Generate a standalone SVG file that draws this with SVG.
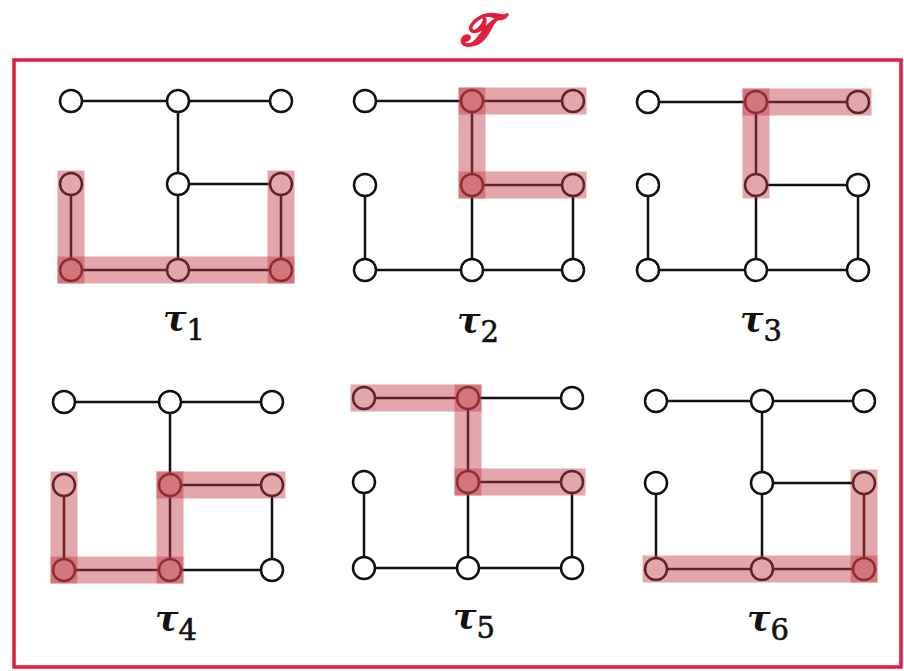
<svg xmlns="http://www.w3.org/2000/svg" width="904" height="671" viewBox="0 0 904 671">
  <style>
    .edge { stroke: #111; stroke-width: 2.5; fill: none; }
    .node { fill: #fff; stroke: #111; stroke-width: 2.5; }
    .band { stroke: #c23a42; stroke-opacity: 0.45; stroke-width: 27; stroke-linecap: square; fill: none; }
    .frame { fill: none; stroke: #e31d3c; stroke-width: 3.5; }
    .title { fill: #e31d3c; stroke: #e31d3c; stroke-width: 1.4; font-family: "DejaVu Serif", "Noto Sans", serif; font-size: 44px; font-style: italic; font-weight: bold; text-anchor: middle; }
    .lbl { fill: #111; font-family: "DejaVu Serif", serif; font-size: 35px; font-style: italic; font-weight: bold; text-anchor: middle; }
    .sub { font-style: normal; font-weight: normal; font-size: 29px; stroke: #111; stroke-width: 0.6; }
  </style>

  <rect width="904" height="671" fill="#fff"/>

  <!-- outer set frame and its title -->
  <g id="frame">
    <rect class="frame" x="14" y="60" width="887" height="607"/>
    <text class="title" x="478" y="45">𝒯</text>
  </g>

  <!-- connectors of all six graphs -->
  <g id="connectors">
    <!-- tau1: x 71,178,281  y 101,184,270 -->
    <g id="edges-t1">
      <line class="edge" x1="71" y1="101" x2="178" y2="101"/>
      <line class="edge" x1="178" y1="101" x2="281" y2="101"/>
      <line class="edge" x1="178" y1="101" x2="178" y2="184"/>
      <line class="edge" x1="178" y1="184" x2="281" y2="184"/>
      <line class="edge" x1="71" y1="184" x2="71" y2="270"/>
      <line class="edge" x1="71" y1="270" x2="178" y2="270"/>
      <line class="edge" x1="178" y1="270" x2="281" y2="270"/>
      <line class="edge" x1="178" y1="184" x2="178" y2="270"/>
      <line class="edge" x1="281" y1="184" x2="281" y2="270"/>
    </g>
    <!-- tau2: x 365,472,573  y 101,185,270 -->
    <g id="edges-t2">
      <line class="edge" x1="365" y1="101" x2="472" y2="101"/>
      <line class="edge" x1="472" y1="101" x2="573" y2="101"/>
      <line class="edge" x1="472" y1="101" x2="472" y2="185"/>
      <line class="edge" x1="472" y1="185" x2="573" y2="185"/>
      <line class="edge" x1="365" y1="185" x2="365" y2="270"/>
      <line class="edge" x1="365" y1="270" x2="472" y2="270"/>
      <line class="edge" x1="472" y1="270" x2="573" y2="270"/>
      <line class="edge" x1="472" y1="185" x2="472" y2="270"/>
      <line class="edge" x1="573" y1="185" x2="573" y2="270"/>
    </g>
    <!-- tau3: x 648,756,858  y 102,185,270 -->
    <g id="edges-t3">
      <line class="edge" x1="648" y1="102" x2="756" y2="102"/>
      <line class="edge" x1="756" y1="102" x2="858" y2="102"/>
      <line class="edge" x1="756" y1="102" x2="756" y2="185"/>
      <line class="edge" x1="756" y1="185" x2="858" y2="185"/>
      <line class="edge" x1="648" y1="185" x2="648" y2="270"/>
      <line class="edge" x1="648" y1="270" x2="756" y2="270"/>
      <line class="edge" x1="756" y1="270" x2="858" y2="270"/>
      <line class="edge" x1="756" y1="185" x2="756" y2="270"/>
      <line class="edge" x1="858" y1="185" x2="858" y2="270"/>
    </g>
    <!-- tau4: x 64,170,272  y 402,485,570 -->
    <g id="edges-t4">
      <line class="edge" x1="64" y1="402" x2="170" y2="402"/>
      <line class="edge" x1="170" y1="402" x2="272" y2="402"/>
      <line class="edge" x1="170" y1="402" x2="170" y2="485"/>
      <line class="edge" x1="170" y1="485" x2="272" y2="485"/>
      <line class="edge" x1="64" y1="485" x2="64" y2="570"/>
      <line class="edge" x1="64" y1="570" x2="170" y2="570"/>
      <line class="edge" x1="170" y1="570" x2="272" y2="570"/>
      <line class="edge" x1="170" y1="485" x2="170" y2="570"/>
      <line class="edge" x1="272" y1="485" x2="272" y2="570"/>
    </g>
    <!-- tau5: x 364,468,572  y 398,482,568 -->
    <g id="edges-t5">
      <line class="edge" x1="364" y1="398" x2="468" y2="398"/>
      <line class="edge" x1="468" y1="398" x2="572" y2="398"/>
      <line class="edge" x1="468" y1="398" x2="468" y2="482"/>
      <line class="edge" x1="468" y1="482" x2="572" y2="482"/>
      <line class="edge" x1="364" y1="482" x2="364" y2="568"/>
      <line class="edge" x1="364" y1="568" x2="468" y2="568"/>
      <line class="edge" x1="468" y1="568" x2="572" y2="568"/>
      <line class="edge" x1="468" y1="482" x2="468" y2="568"/>
      <line class="edge" x1="572" y1="482" x2="572" y2="568"/>
    </g>
    <!-- tau6: x 656,762,864  y 401,483,569 -->
    <g id="edges-t6">
      <line class="edge" x1="656" y1="401" x2="762" y2="401"/>
      <line class="edge" x1="762" y1="401" x2="864" y2="401"/>
      <line class="edge" x1="762" y1="401" x2="762" y2="483"/>
      <line class="edge" x1="762" y1="483" x2="864" y2="483"/>
      <line class="edge" x1="656" y1="483" x2="656" y2="569"/>
      <line class="edge" x1="656" y1="569" x2="762" y2="569"/>
      <line class="edge" x1="762" y1="569" x2="864" y2="569"/>
      <line class="edge" x1="762" y1="483" x2="762" y2="569"/>
      <line class="edge" x1="864" y1="483" x2="864" y2="569"/>
    </g>
  </g>

  <!-- vertices -->
  <g id="t1-nodes">
    <g id="t1-a"><circle class="node" cx="71" cy="101" r="11"/></g>
    <g id="t1-b"><circle class="node" cx="178" cy="101" r="11"/></g>
    <g id="t1-c"><circle class="node" cx="281" cy="101" r="11"/></g>
    <g id="t1-d"><circle class="node" cx="71" cy="184" r="11"/></g>
    <g id="t1-e"><circle class="node" cx="178" cy="184" r="11"/></g>
    <g id="t1-f"><circle class="node" cx="281" cy="184" r="11"/></g>
    <g id="t1-g"><circle class="node" cx="71" cy="270" r="11"/></g>
    <g id="t1-h"><circle class="node" cx="178" cy="270" r="11"/></g>
    <g id="t1-i"><circle class="node" cx="281" cy="270" r="11"/></g>
  </g>
  <g id="t2-nodes">
    <g id="t2-a"><circle class="node" cx="365" cy="101" r="11"/></g>
    <g id="t2-b"><circle class="node" cx="472" cy="101" r="11"/></g>
    <g id="t2-c"><circle class="node" cx="573" cy="101" r="11"/></g>
    <g id="t2-d"><circle class="node" cx="365" cy="185" r="11"/></g>
    <g id="t2-e"><circle class="node" cx="472" cy="185" r="11"/></g>
    <g id="t2-f"><circle class="node" cx="573" cy="185" r="11"/></g>
    <g id="t2-g"><circle class="node" cx="365" cy="270" r="11"/></g>
    <g id="t2-h"><circle class="node" cx="472" cy="270" r="11"/></g>
    <g id="t2-i"><circle class="node" cx="573" cy="270" r="11"/></g>
  </g>
  <g id="t3-nodes">
    <g id="t3-a"><circle class="node" cx="648" cy="102" r="11"/></g>
    <g id="t3-b"><circle class="node" cx="756" cy="102" r="11"/></g>
    <g id="t3-c"><circle class="node" cx="858" cy="102" r="11"/></g>
    <g id="t3-d"><circle class="node" cx="648" cy="185" r="11"/></g>
    <g id="t3-e"><circle class="node" cx="756" cy="185" r="11"/></g>
    <g id="t3-f"><circle class="node" cx="858" cy="185" r="11"/></g>
    <g id="t3-g"><circle class="node" cx="648" cy="270" r="11"/></g>
    <g id="t3-h"><circle class="node" cx="756" cy="270" r="11"/></g>
    <g id="t3-i"><circle class="node" cx="858" cy="270" r="11"/></g>
  </g>
  <g id="t4-nodes">
    <g id="t4-a"><circle class="node" cx="64" cy="402" r="11"/></g>
    <g id="t4-b"><circle class="node" cx="170" cy="402" r="11"/></g>
    <g id="t4-c"><circle class="node" cx="272" cy="402" r="11"/></g>
    <g id="t4-d"><circle class="node" cx="64" cy="485" r="11"/></g>
    <g id="t4-e"><circle class="node" cx="170" cy="485" r="11"/></g>
    <g id="t4-f"><circle class="node" cx="272" cy="485" r="11"/></g>
    <g id="t4-g"><circle class="node" cx="64" cy="570" r="11"/></g>
    <g id="t4-h"><circle class="node" cx="170" cy="570" r="11"/></g>
    <g id="t4-i"><circle class="node" cx="272" cy="570" r="11"/></g>
  </g>
  <g id="t5-nodes">
    <g id="t5-a"><circle class="node" cx="364" cy="398" r="11"/></g>
    <g id="t5-b"><circle class="node" cx="468" cy="398" r="11"/></g>
    <g id="t5-c"><circle class="node" cx="572" cy="398" r="11"/></g>
    <g id="t5-d"><circle class="node" cx="364" cy="482" r="11"/></g>
    <g id="t5-e"><circle class="node" cx="468" cy="482" r="11"/></g>
    <g id="t5-f"><circle class="node" cx="572" cy="482" r="11"/></g>
    <g id="t5-g"><circle class="node" cx="364" cy="568" r="11"/></g>
    <g id="t5-h"><circle class="node" cx="468" cy="568" r="11"/></g>
    <g id="t5-i"><circle class="node" cx="572" cy="568" r="11"/></g>
  </g>
  <g id="t6-nodes">
    <g id="t6-a"><circle class="node" cx="656" cy="401" r="11"/></g>
    <g id="t6-b"><circle class="node" cx="762" cy="401" r="11"/></g>
    <g id="t6-c"><circle class="node" cx="864" cy="401" r="11"/></g>
    <g id="t6-d"><circle class="node" cx="656" cy="483" r="11"/></g>
    <g id="t6-e"><circle class="node" cx="762" cy="483" r="11"/></g>
    <g id="t6-f"><circle class="node" cx="864" cy="483" r="11"/></g>
    <g id="t6-g"><circle class="node" cx="656" cy="569" r="11"/></g>
    <g id="t6-h"><circle class="node" cx="762" cy="569" r="11"/></g>
    <g id="t6-i"><circle class="node" cx="864" cy="569" r="11"/></g>
  </g>

  <!-- translucent path highlights; overlapping runs darken the corners -->
  <g id="highlights">
    <g id="hl-t1">
      <line class="band" x1="71" y1="184" x2="71" y2="270"/>
      <line class="band" x1="71" y1="270" x2="281" y2="270"/>
      <line class="band" x1="281" y1="184" x2="281" y2="270"/>
    </g>
    <g id="hl-t2">
      <line class="band" x1="472" y1="101" x2="573" y2="101"/>
      <line class="band" x1="472" y1="101" x2="472" y2="185"/>
      <line class="band" x1="472" y1="185" x2="573" y2="185"/>
    </g>
    <g id="hl-t3">
      <line class="band" x1="756" y1="102" x2="858" y2="102"/>
      <line class="band" x1="756" y1="102" x2="756" y2="185"/>
    </g>
    <g id="hl-t4">
      <line class="band" x1="64" y1="485" x2="64" y2="570"/>
      <line class="band" x1="64" y1="570" x2="170" y2="570"/>
      <line class="band" x1="170" y1="485" x2="170" y2="570"/>
      <line class="band" x1="170" y1="485" x2="272" y2="485"/>
    </g>
    <g id="hl-t5">
      <line class="band" x1="364" y1="398" x2="468" y2="398"/>
      <line class="band" x1="468" y1="398" x2="468" y2="482"/>
      <line class="band" x1="468" y1="482" x2="572" y2="482"/>
    </g>
    <g id="hl-t6">
      <line class="band" x1="656" y1="569" x2="864" y2="569"/>
      <line class="band" x1="864" y1="483" x2="864" y2="569"/>
    </g>
  </g>

  <!-- panel labels -->
  <g id="labels">
    <text class="lbl" x="184" y="331">τ<tspan class="sub" dy="9">1</tspan></text>
    <text class="lbl" x="478" y="333">τ<tspan class="sub" dy="9">2</tspan></text>
    <text class="lbl" x="761" y="332">τ<tspan class="sub" dy="9">3</tspan></text>
    <text class="lbl" x="176" y="631">τ<tspan class="sub" dy="9">4</tspan></text>
    <text class="lbl" x="474" y="629">τ<tspan class="sub" dy="9">5</tspan></text>
    <text class="lbl" x="768" y="631">τ<tspan class="sub" dy="9">6</tspan></text>
  </g>
</svg>
